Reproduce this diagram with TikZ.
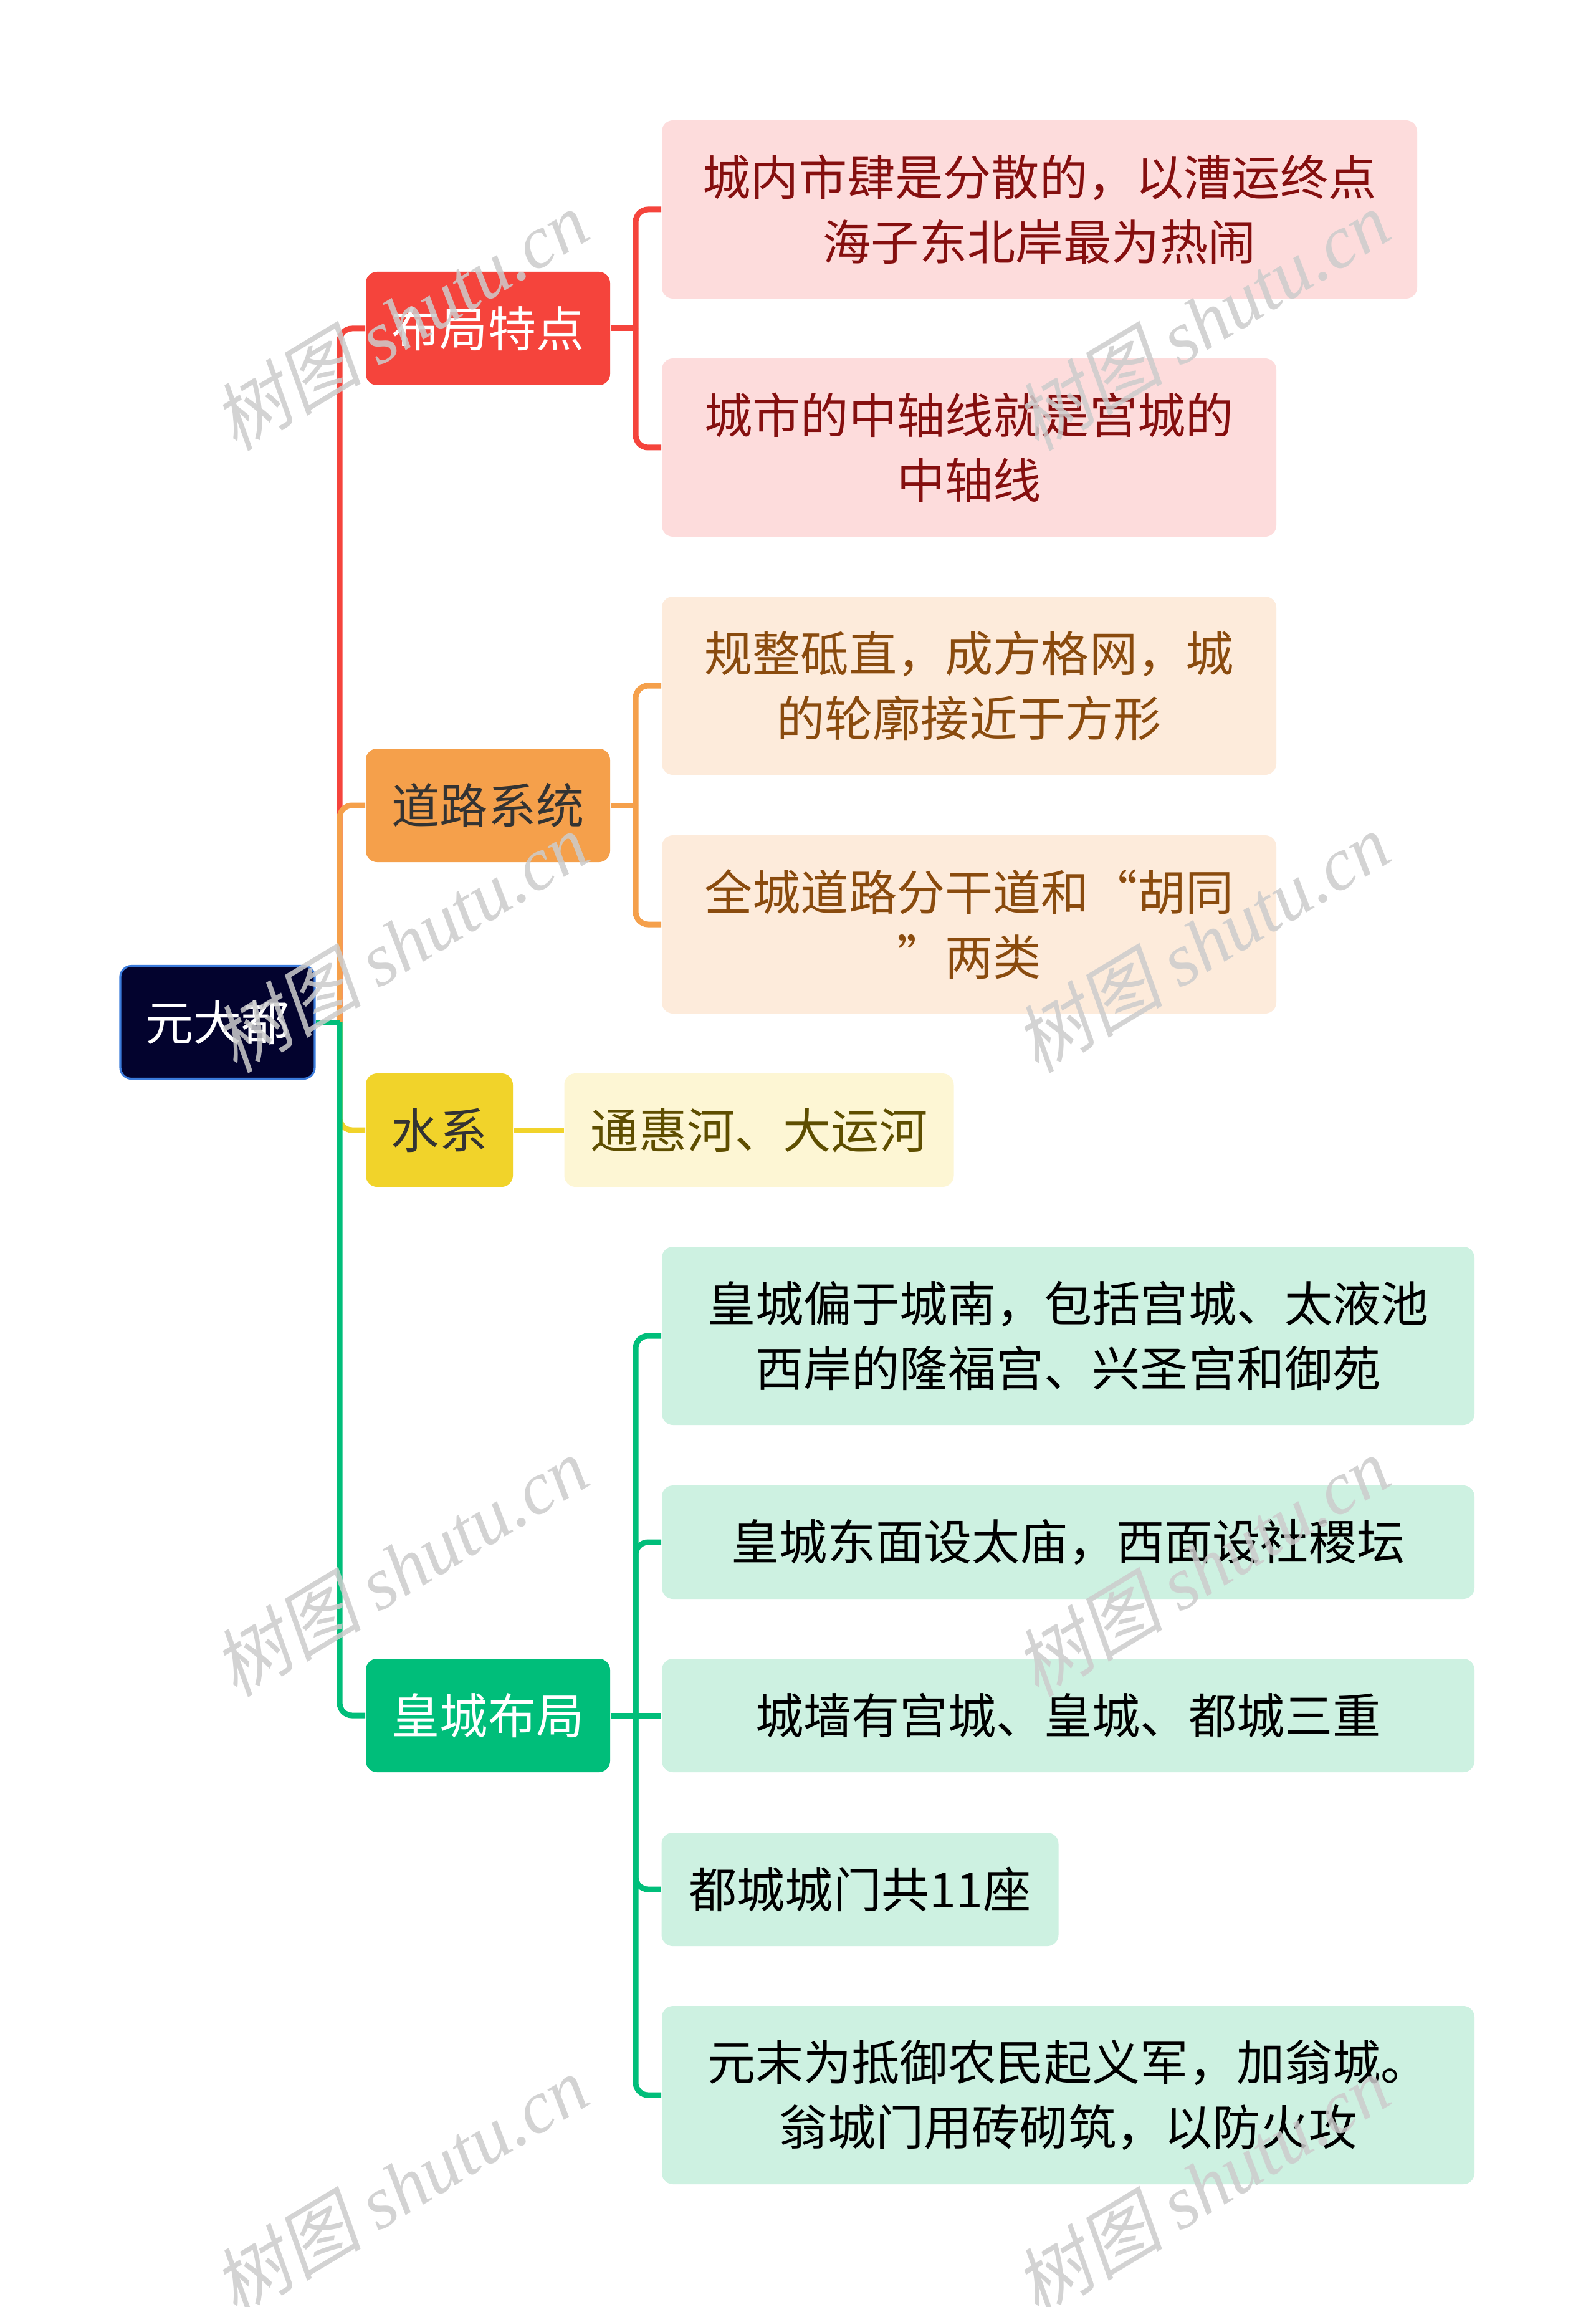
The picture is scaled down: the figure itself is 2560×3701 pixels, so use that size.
\documentclass[tikz,border=0pt]{standalone}
\usepackage{fontspec}
\setmainfont{Noto Sans CJK SC}
\newfontfamily\wmlatin{Liberation Serif}
\newfontfamily\wmcjk[FakeSlant=0.2]{Noto Sans CJK SC}

\definecolor{rootbg}{HTML}{03032E}
\definecolor{rootbd}{HTML}{3B7BDB}
\definecolor{redmain}{HTML}{F5443C}
\definecolor{redsub}{HTML}{FDDCDC}
\definecolor{redtxt}{HTML}{850F0F}
\definecolor{orgmain}{HTML}{F5A04B}
\definecolor{orgsub}{HTML}{FDEBDB}
\definecolor{orgtxt}{HTML}{8A4B0E}
\definecolor{ylwmain}{HTML}{F1D32A}
\definecolor{ylwsub}{HTML}{FDF6D4}
\definecolor{ylwtxt}{HTML}{5E4E00}
\definecolor{grnmain}{HTML}{00BE7A}
\definecolor{grnsub}{HTML}{CDF1E1}
\definecolor{darktxt}{HTML}{333333}

\begin{document}
\begin{tikzpicture}[x=0.25pt, y=-0.25pt,
    box/.style={rectangle, rounded corners=4.5pt, inner sep=0pt, align=center,
        font=\fontsize{19.3}{26}\selectfont},
    topic/.style={box, minimum height=45.5pt},
    sub/.style={box, minimum height=45.5pt},
    tall/.style={minimum height=71.5pt},
    link/.style={line width=2.25pt, rounded corners=5pt},
    wmark/.style={rotate=31, text=black!20, text opacity=0.85, inner sep=0pt,
        font=\fontsize{30}{30}\selectfont}]
    \fill[white] (0,0) rectangle (2560,3701);
    \useasboundingbox (0,0) rectangle (2560,3701);
    % root
    \node[box, fill=rootbg, draw=rootbd, line width=0.8pt, text=white,
        minimum width=78pt, minimum height=45.25pt] (yuan) at (349,1640) {元大都};
    % main topics
    \node[topic, fill=redmain, text=white, minimum width=98pt] (layout) at (783,527) {布局特点};
    \node[topic, fill=orgmain, text=darktxt, minimum width=98pt] (roads) at (783,1292) {道路系统};
    \node[topic, fill=ylwmain, text=darktxt, minimum width=59pt] (water) at (705,1813) {水系};
    \node[topic, fill=grnmain, text=white, minimum width=98pt] (palace) at (783,2752) {皇城布局};
    % subtopics
    \node[sub, tall, fill=redsub, text=redtxt, minimum width=303pt] (shops) at (1668,336)
        {城内市肆是分散的，以漕运终点\\海子东北岸最为热闹};
    \node[sub, tall, fill=redsub, text=redtxt, minimum width=246.5pt] (axis) at (1555,718)
        {城市的中轴线就是宫城的\\中轴线};
    \node[sub, tall, fill=orgsub, text=orgtxt, minimum width=246.5pt] (grid) at (1555,1100)
        {规整砥直，成方格网，城\\的轮廓接近于方形};
    \node[sub, tall, fill=orgsub, text=orgtxt, minimum width=246.5pt] (lanes) at (1555,1483)
        {全城道路分干道和“胡同\\”两类};
    \node[sub, fill=ylwsub, text=ylwtxt, minimum width=156.25pt] (canal) at (1218,1813)
        {通惠河、大运河};
    \node[sub, tall, fill=grnsub, text=black, minimum width=326pt] (south) at (1714,2143)
        {皇城偏于城南，包括宫城、太液池\\西岸的隆福宫、兴圣宫和御苑};
    \node[sub, fill=grnsub, text=black, minimum width=326pt] (temple) at (1714,2474)
        {皇城东面设太庙，西面设社稷坛};
    \node[sub, fill=grnsub, text=black, minimum width=326pt] (walls) at (1714,2752)
        {城墙有宫城、皇城、都城三重};
    \node[sub, fill=grnsub, text=black, minimum width=159.25pt] (gates) at (1380,3031)
        {都城城门共11座};
    \node[sub, tall, fill=grnsub, text=black, minimum width=326pt] (barbican) at (1714,3361)
        {元末为抵御农民起义军，加翁城。\\翁城门用砖砌筑，以防火攻};
    % links from the root
    \coordinate (trunk) at (545,1640);
    \draw[link, redmain] (trunk) |- (layout.west);
    \draw[link, orgmain] (trunk) |- (roads.west);
    \draw[link, ylwmain] (trunk) |- (water.west);
    \draw[link, grnmain] (trunk) |- (palace.west);
    \draw[link, grnmain] (yuan.east) -- (trunk);
    % links to the subtopics
    \coordinate (layoutbus) at (1020,527);
    \coordinate (roadsbus) at (1020,1292);
    \coordinate (palacebus) at (1020,2752);
    \draw[link, redmain] (layout.east) -- (layoutbus);
    \draw[link, redmain] (layoutbus) |- (shops.west);
    \draw[link, redmain] (layoutbus) |- (axis.west);
    \draw[link, orgmain] (roads.east) -- (roadsbus);
    \draw[link, orgmain] (roadsbus) |- (grid.west);
    \draw[link, orgmain] (roadsbus) |- (lanes.west);
    \draw[link, ylwmain] (water.east) -- (canal.west);
    \draw[link, grnmain] (palace.east) -- (walls.west);
    \foreach \g in {south, temple, gates, barbican} {
        \draw[link, grnmain] (palacebus) |- (\g.west);
    }
    % watermarks
    \foreach \wx in {642, 1928} {
        \foreach \wy in {514, 1512, 2513, 3506} {
            \node[wmark] (wm-\wx-\wy) at (\wx,\wy) {\wmcjk 树图 \wmlatin\itshape shutu.cn};
        }
    }
\end{tikzpicture}
\end{document}
